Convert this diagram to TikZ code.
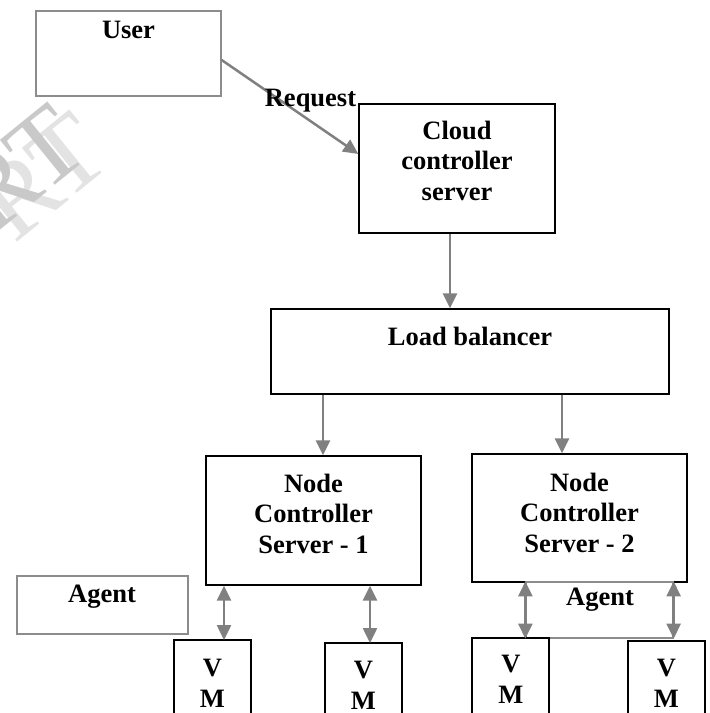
\documentclass[tikz,border=0pt]{standalone}
\usepackage{fontspec}
\setmainfont{Liberation Serif}
\usetikzlibrary{arrows.meta,calc}
\definecolor{arrgray}{HTML}{808080}
\definecolor{boxgray}{HTML}{8C8C8C}
\begin{document}
\begin{tikzpicture}[x=1pt,y=-1pt,
  blackbox/.style={draw=black,line width=1.3pt,inner sep=0pt},
  graybox/.style={draw=boxgray,line width=1.3pt,inner sep=0pt},
  lbl/.style={font=\fontsize{26.5}{30.5}\selectfont\bfseries,inner sep=0pt,align=center,anchor=base},
  arr/.style={draw=arrgray,line width=2.5pt,-{Triangle[length=15pt,width=14pt]}},
  darr/.style={draw=arrgray,line width=2.5pt,{Triangle[length=15pt,width=14pt]}-{Triangle[length=15pt,width=14pt]}},
  wmark/.style={font=\fontsize{106}{106}\selectfont,inner sep=0pt,anchor=base east,rotate=39}]
\useasboundingbox (0,0) rectangle (710,713);
\fill[white] (0,0) rectangle (710,713);
% watermark
\node[wmark,text=black!11] (wm2) at (115,163) {RT};
\node[wmark,text=black!21] (wm1) at (93,155) {RT};
% boxes
\node[graybox,minimum width=185pt,minimum height=85pt] (user) at (128.5,53.5) {};
\node[blackbox,minimum width=196pt,minimum height=129pt] (cloud) at (457,168.5) {};
\node[blackbox,minimum width=398pt,minimum height=85pt] (lb) at (470,351.5) {};
\node[blackbox,minimum width=215pt,minimum height=129pt] (n1) at (313.5,520.5) {};
\node[blackbox,minimum width=215pt,minimum height=128pt] (n2) at (579.5,518) {};
\node[graybox,minimum width=171pt,minimum height=58pt] (agent1) at (102.5,605) {};
\node[graybox,minimum width=147pt,minimum height=56pt] (agent2) at (599.5,610) {};
\draw[blackbox] (174,740) |- (251,640) -- (251,740);
\draw[blackbox] (325,740) |- (402,643) -- (402,740);
\draw[blackbox] (472,740) |- (549,638) -- (549,740);
\draw[blackbox] (628,740) |- (705,641) -- (705,740);
\coordinate (vm1) at (212.5,640);
\coordinate (vm2) at (363.5,643);
\coordinate (vm3) at (510.5,638);
\coordinate (vm4) at (666.5,641);
% texts
\node[lbl] (tuser) at (128.5,38) {User};
\node[lbl] (tcloud) at (457,200) {Cloud\\controller\\server};
\node[lbl] (tlb) at (470,345) {Load balancer};
\node[lbl] (tn1) at (313.5,553) {Node\\Controller\\Server - 1};
\node[lbl] (tn2) at (579.5,552) {Node\\Controller\\Server - 2};
\node[lbl] (tag1) at (102,602) {Agent};
\node[lbl] (tag2) at (600,605) {Agent};
\node[lbl] (tvm1) at (212.5,707) {V\\M};
\node[lbl] (tvm2) at (363.5,709) {V\\M};
\node[lbl] (tvm3) at (511,703) {V\\M};
\node[lbl] (tvm4) at (666.5,707) {V\\M};
% connectors
\draw[arr] ([yshift=-6.5pt]user.east) -- ([yshift=14.5pt]cloud.west);
\node[lbl] (treq) at (310.5,106) {Request};
\draw[arr] ([xshift=-7pt]cloud.south) -- ([xshift=-20pt]lb.north);
\draw[arr] ([xshift=9.5pt]n1.north |- lb.south) -- ([xshift=9.5pt]n1.north);
\draw[arr] ([xshift=-17.5pt]n2.north |- lb.south) -- ([xshift=-17.5pt]n2.north);
\draw[darr] ([xshift=11.5pt]vm1 |- n1.south) -- ([xshift=11.5pt]vm1);
\draw[darr] ([xshift=6.5pt]vm2 |- n1.south) -- ([xshift=6.5pt]vm2);
\draw[darr] (agent2.north west) -- (agent2.south west);
\draw[darr] (agent2.north east) -- (agent2.south east);
\end{tikzpicture}
\end{document}
